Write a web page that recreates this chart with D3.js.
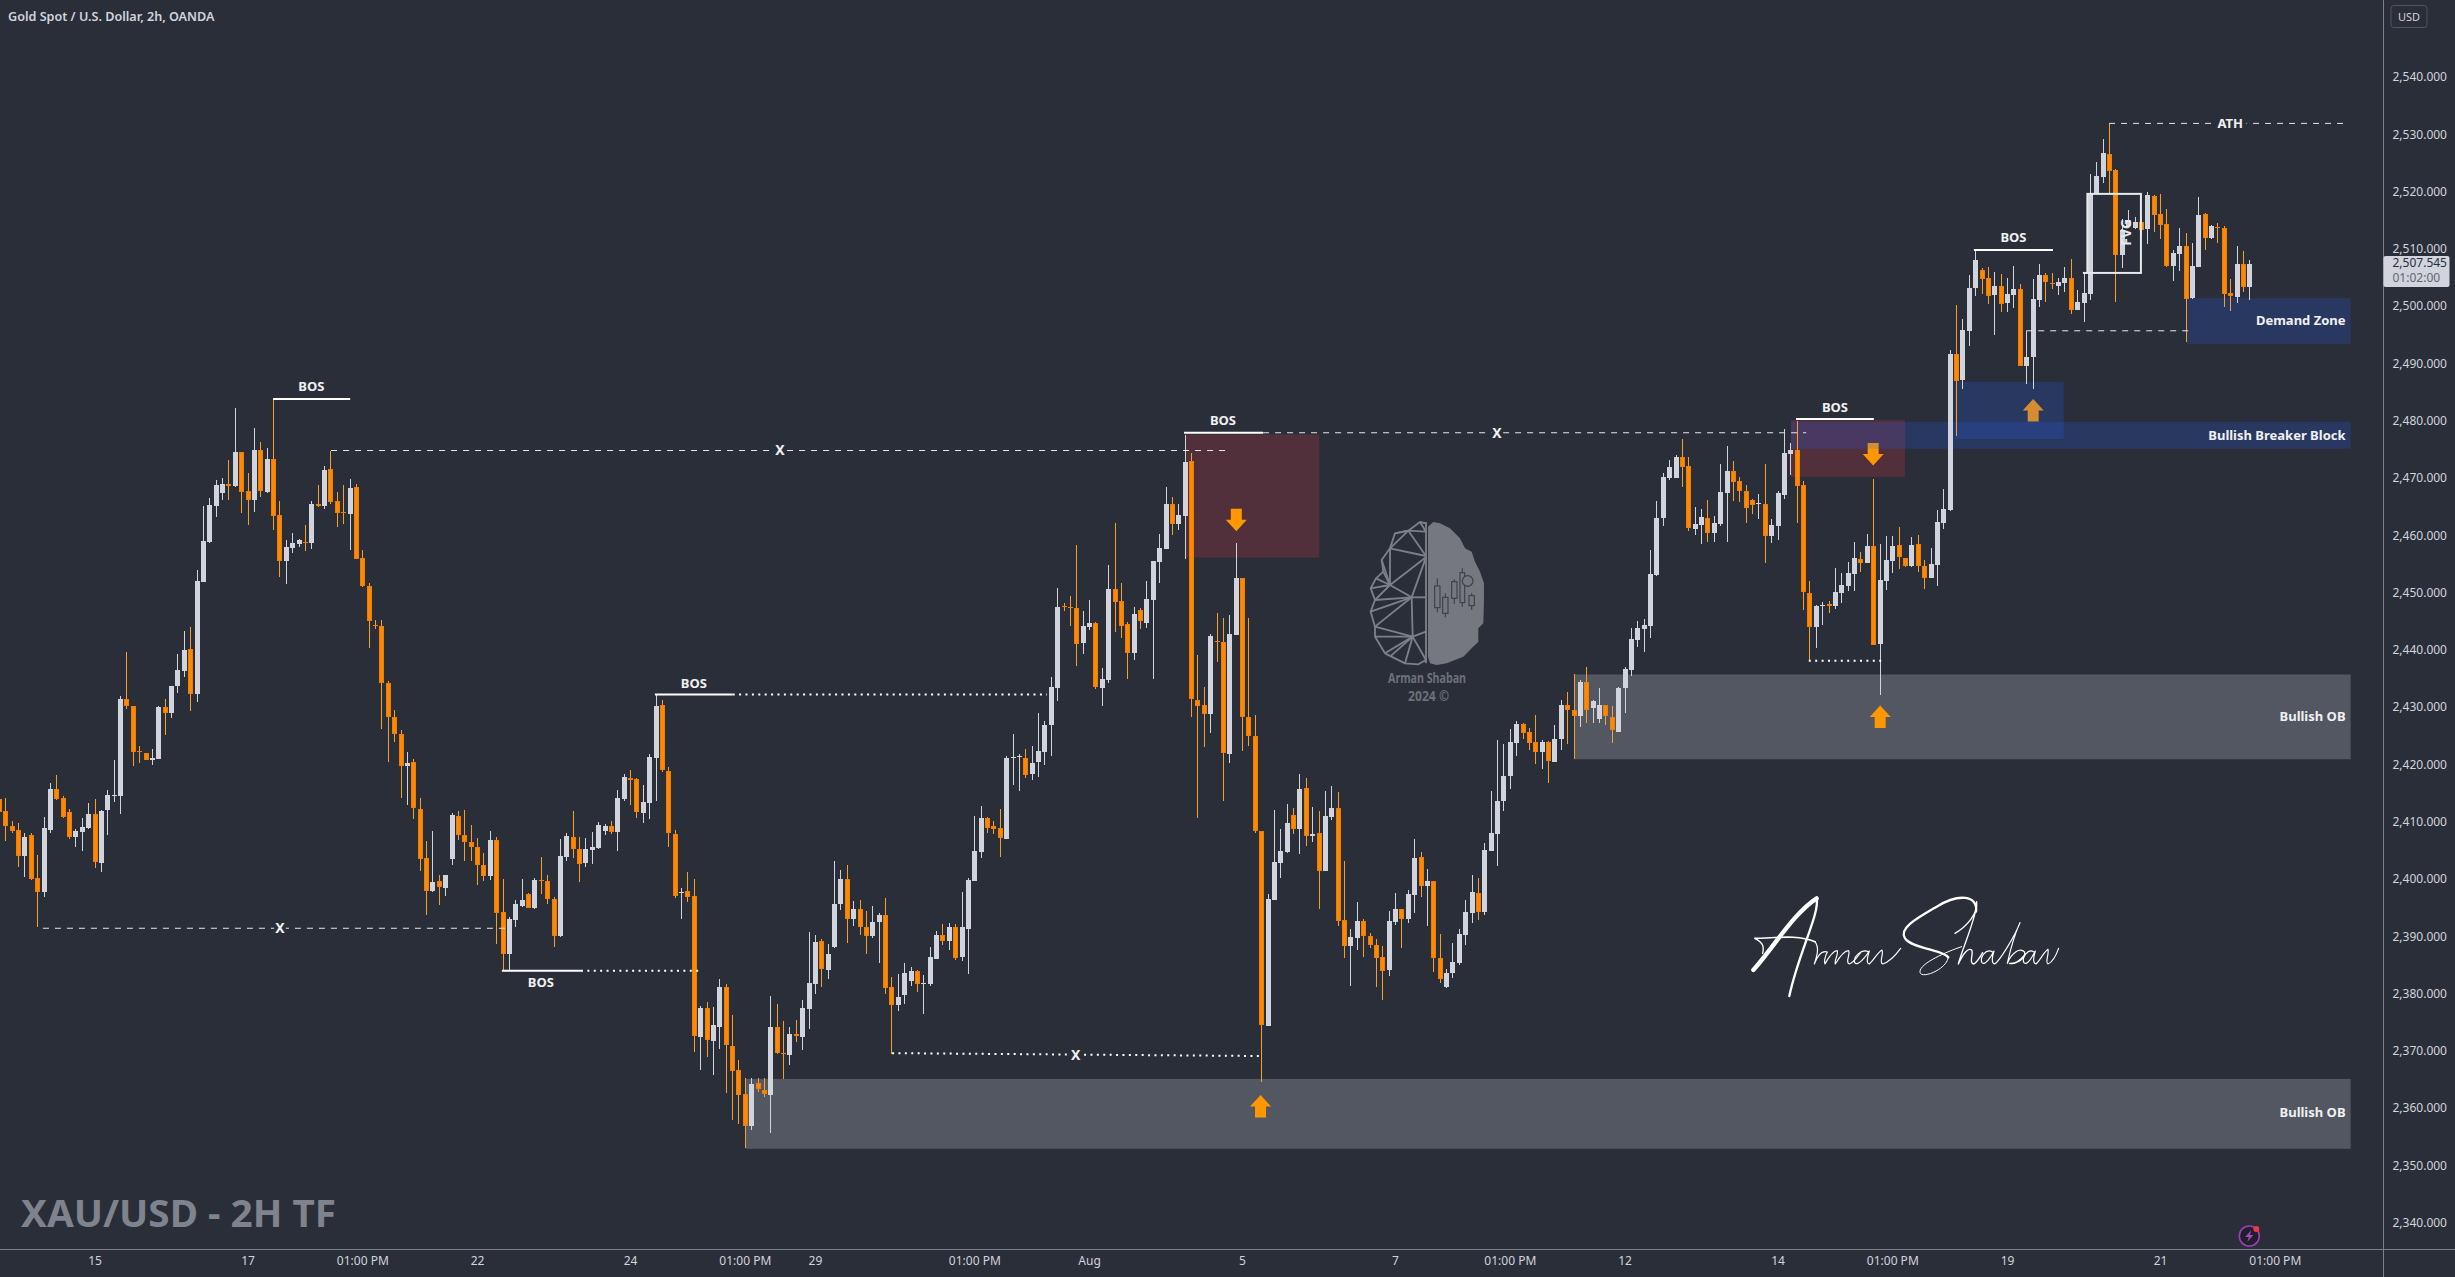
<!DOCTYPE html>
<html><head><meta charset="utf-8"><title>XAU/USD 2H</title>
<script src="https://cdn.jsdelivr.net/npm/d3@7/dist/d3.min.js"></script>
<style>
html,body{margin:0;padding:0;background:#2a2e39;overflow:hidden}
svg{display:block}
text{font-family:"Noto Sans",Roboto,sans-serif}
</style></head><body><svg id="c" width="2455" height="1277"></svg>
<script>
const opens=[2414.0,2411.9,2409.2,2408.5,2403.9,2407.7,2400.2,2397.8,2408.6,2415.7,
2414.1,2411.7,2407.4,2408.2,2408.9,2411.3,2402.9,2411.9,2414.5,2414.5,
2431.4,2430.2,2422.3,2422.0,2420.8,2421.0,2430.0,2429.0,2433.7,2436.3,
2440.2,2432.3,2451.9,2458.8,2465.1,2467.5,2468.9,2468.5,2474.5,2467.7,
2466.2,2474.9,2467.5,2473.3,2463.5,2455.4,2457.8,2458.5,2458.9,2458.7,
2465.4,2465.1,2471.5,2466.0,2464.0,2463.7,2468.4,2456.0,2451.2,2444.4,
2444.1,2434.2,2428.2,2425.3,2419.8,2420.4,2412.3,2403.6,2397.8,2399.6,
2398.5,2403.5,2411.0,2407.6,2406.4,2405.5,2402.4,2400.5,2406.8,2394.2,
2386.9,2392.8,2395.3,2397.4,2394.9,2399.8,2399.6,2396.5,2390.0,2403.8,
2407.4,2405.3,2402.7,2405.1,2405.4,2408.4,2409.2,2408.1,2413.9,2417.7,
2417.4,2411.5,2413.3,2421.2,2430.3,2418.8,2407.9,2397.6,2397.9,2397.0,
2372.5,2377.4,2371.7,2374.2,2381.1,2370.9,2366.6,2362.4,2356.8,2364.3,
2363.1,2362.4,2374.1,2369.6,2369.3,2372.9,2372.4,2377.3,2381.7,2389.1,
2384.1,2388.1,2395.6,2400.0,2392.9,2394.7,2391.6,2390.0,2392.4,2393.7,
2381.1,2378.0,2379.7,2382.2,2383.9,2381.8,2381.6,2386.0,2390.3,2389.2,
2391.6,2386.4,2391.2,2399.6,2404.7,2410.6,2409.3,2408.9,2407.1,2421.2,
2421.4,2421.2,2418.3,2420.3,2422.1,2426.9,2433.3,2447.6,2447.4,2447.3,
2441.2,2444.0,2444.7,2433.5,2434.8,2450.6,2448.5,2444.5,2439.5,2447.0,
2444.7,2448.7,2455.4,2457.6,2465.4,2461.9,2463.4,2472.9,2431.3,2430.3,
2428.8,2441.6,2441.3,2421.8,2442.6,2452.5,2428.3,2424.9,2408.3,2374.4,
2396.3,2402.8,2404.7,2411.1,2408.8,2415.8,2407.4,2408.0,2401.4,2410.8,
2412.4,2392.8,2388.2,2389.7,2392.6,2390.0,2388.4,2386.4,2384.0,2392.5,
2394.7,2393.0,2397.3,2403.8,2398.8,2399.6,2386.2,2381.1,2383.5,2385.3,
2390.2,2394.1,2397.6,2394.2,2404.9,2407.8,2413.6,2418.0,2423.7,2427.0,
2425.6,2423.9,2422.1,2423.9,2420.4,2424.3,2430.3,2429.5,2428.5,2434.4,
2429.7,2427.8,2430.3,2428.2,2425.8,2433.2,2436.5,2441.7,2443.6,2444.2,
2453.1,2462.9,2470.0,2470.0,2473.7,2472.1,2461.1,2461.8,2463.0,2460.4,
2462.0,2467.4,2471.3,2469.4,2467.7,2466.1,2465.5,2465.4,2459.8,2461.6,
2467.0,2474.2,2474.9,2468.7,2450.0,2444.0,2447.7,2448.0,2447.6,2449.9,
2451.1,2453.2,2455.8,2455.1,2458.1,2441.0,2452.0,2455.5,2458.3,2456.0,
2454.6,2458.5,2454.6,2452.5,2454.8,2462.1,2464.4,2491.7,2487.0,2495.7,
2503.2,2506.3,2504.9,2502.0,2503.5,2500.6,2502.0,2503.0,2489.6,2491.0,
2501.1,2505.4,2504.1,2503.6,2504.1,2504.9,2499.3,2500.6,2502.1,2519.7,
2522.5,2526.6,2523.8,2508.9,2514.0,2513.6,2514.7,2513.5,2519.2,2516.1,
2514.4,2507.0,2509.1,2510.5,2501.4,2506.8,2516.1,2511.9,2513.8,2513.6,
2502.3,2501.6,2507.4,2503.4];
const closes=[2411.8,2409.3,2408.4,2403.9,2407.3,2400.0,2397.8,2408.9,2415.7,2414.0,
2410.7,2407.3,2408.4,2409.0,2411.3,2402.9,2411.9,2414.6,2414.6,2431.4,
2430.1,2422.2,2422.2,2420.8,2421.1,2430.0,2429.0,2433.7,2436.5,2440.0,
2432.3,2452.0,2459.0,2465.3,2468.8,2469.0,2468.5,2474.5,2467.6,2466.2,
2474.9,2467.7,2473.3,2463.4,2455.4,2457.9,2458.7,2459.2,2458.7,2465.5,
2465.0,2471.4,2465.8,2463.9,2463.8,2468.3,2455.9,2451.1,2445.1,2444.3,
2434.1,2428.2,2425.2,2419.8,2420.3,2412.3,2403.5,2397.8,2399.4,2398.5,
2400.7,2411.2,2407.7,2406.3,2405.5,2402.3,2400.5,2406.8,2394.1,2386.9,
2393.0,2395.6,2396.3,2395.0,2399.8,2399.6,2396.4,2390.1,2404.0,2407.5,
2405.3,2402.7,2405.2,2405.6,2409.4,2409.2,2408.1,2414.1,2417.8,2417.3,
2411.6,2413.5,2421.3,2430.2,2418.9,2407.9,2397.0,2397.7,2396.9,2372.5,
2377.5,2371.9,2374.5,2381.1,2370.9,2366.5,2362.3,2356.9,2364.2,2363.3,
2362.4,2374.2,2369.5,2369.5,2372.9,2372.5,2377.5,2381.9,2389.0,2384.2,
2386.9,2395.6,2400.0,2393.1,2394.7,2391.6,2390.1,2392.5,2393.7,2381.0,
2377.9,2379.4,2383.6,2383.9,2381.6,2381.8,2386.3,2390.2,2389.3,2391.6,
2386.2,2391.6,2399.8,2404.9,2410.6,2408.9,2408.7,2407.1,2421.2,2421.3,
2421.4,2418.3,2420.3,2422.3,2426.9,2433.5,2447.5,2447.5,2447.3,2441.0,
2444.2,2444.7,2433.5,2435.0,2450.6,2448.3,2444.2,2439.5,2446.3,2445.1,
2448.9,2455.5,2457.8,2465.4,2461.9,2463.5,2472.8,2431.3,2430.3,2428.8,
2442.5,2441.4,2422.0,2442.7,2452.5,2428.3,2424.9,2408.3,2374.4,2396.5,
2403.0,2404.9,2409.8,2408.6,2415.7,2407.4,2407.8,2401.4,2411.0,2412.4,
2392.6,2388.2,2389.8,2392.6,2389.9,2388.4,2386.2,2384.0,2392.6,2394.7,
2393.0,2397.4,2403.7,2398.8,2399.7,2386.1,2382.6,2383.6,2385.5,2390.4,
2394.2,2397.7,2394.3,2405.1,2408.0,2413.6,2418.0,2423.9,2427.0,2425.4,
2423.7,2422.2,2423.9,2420.5,2424.4,2430.3,2429.5,2428.5,2434.4,2429.5,
2431.0,2430.3,2428.4,2426.0,2433.4,2436.6,2441.9,2443.8,2444.3,2453.2,
2463.0,2470.1,2471.9,2473.7,2472.0,2461.3,2462.0,2463.2,2460.4,2462.1,
2467.5,2471.2,2469.4,2467.6,2464.8,2465.3,2465.6,2459.8,2461.8,2467.4,
2474.4,2474.9,2468.6,2450.0,2444.0,2447.6,2447.8,2447.7,2450.1,2451.3,
2453.4,2456.0,2455.1,2458.1,2440.8,2452.2,2455.7,2458.1,2456.2,2454.6,
2458.3,2454.6,2452.5,2455.0,2462.3,2464.6,2491.7,2487.0,2495.8,2503.2,
2508.1,2504.8,2501.8,2503.5,2500.4,2502.1,2503.0,2489.6,2491.1,2501.2,
2505.4,2504.1,2504.0,2504.3,2504.9,2499.3,2500.7,2502.3,2519.7,2522.7,
2526.7,2523.6,2508.9,2513.3,2514.9,2514.7,2513.3,2519.4,2515.9,2514.2,
2507.0,2509.3,2510.5,2501.2,2507.0,2515.9,2511.9,2514.0,2513.6,2502.1,
2501.7,2507.4,2503.4,2507.4];
const highs=[2414.5,2414.1,2410.1,2409.8,2408.1,2408.1,2404.2,2410.8,2416.8,2418.1,
2414.5,2412.2,2408.7,2410.7,2413.2,2413.9,2412.0,2415.6,2420.8,2431.9,
2439.6,2430.2,2423.3,2422.0,2422.7,2430.2,2431.4,2433.7,2439.3,2443.3,
2444.0,2453.9,2465.2,2466.5,2469.7,2470.0,2473.1,2482.2,2474.5,2470.9,
2478.8,2476.3,2475.3,2483.8,2466.0,2459.2,2460.4,2459.4,2461.8,2466.0,
2468.8,2472.1,2474.8,2467.5,2468.8,2469.8,2468.9,2457.4,2451.7,2445.2,
2445.2,2434.5,2429.5,2426.0,2422.1,2420.9,2414.2,2406.6,2408.4,2400.7,
2400.7,2411.5,2411.9,2412.0,2409.4,2407.2,2404.5,2408.4,2407.4,2400.0,
2393.3,2396.3,2400.0,2397.6,2400.1,2403.9,2400.7,2396.9,2407.0,2408.1,
2411.9,2407.4,2407.1,2408.2,2409.9,2409.6,2410.1,2415.6,2418.3,2419.0,
2417.7,2416.4,2421.8,2432.1,2431.2,2419.6,2408.5,2398.5,2401.2,2400.0,
2377.8,2378.5,2377.6,2382.5,2381.6,2376.2,2368.4,2365.2,2365.2,2365.2,
2365.2,2379.5,2378.2,2375.2,2374.2,2375.3,2378.9,2390.7,2390.2,2389.5,
2388.7,2403.1,2401.5,2402.4,2396.1,2396.4,2394.4,2395.3,2394.1,2396.7,
2382.9,2383.4,2385.3,2384.7,2384.2,2383.2,2388.1,2390.9,2392.1,2392.3,
2392.1,2397.8,2400.2,2411.0,2412.7,2410.9,2410.1,2412.2,2421.4,2425.3,
2421.8,2422.7,2423.2,2428.9,2427.5,2435.2,2450.8,2448.2,2449.4,2458.3,
2446.8,2448.7,2444.9,2436.8,2454.8,2462.1,2451.7,2444.8,2447.4,2447.3,
2452.1,2455.5,2460.2,2468.5,2466.6,2465.4,2477.5,2474.4,2439.1,2433.5,
2442.8,2446.4,2445.5,2446.1,2458.7,2452.5,2445.5,2428.6,2408.3,2397.3,
2412.0,2408.7,2413.1,2412.4,2418.3,2417.6,2412.5,2411.8,2415.4,2416.2,
2415.2,2403.1,2391.3,2396.0,2393.0,2390.5,2389.5,2388.3,2394.5,2397.6,
2394.7,2398.0,2406.9,2404.7,2401.7,2399.7,2390.4,2384.3,2388.8,2391.3,
2396.3,2400.7,2400.2,2406.2,2415.4,2424.2,2423.6,2426.1,2427.5,2427.2,
2426.3,2428.7,2424.3,2424.1,2426.8,2431.3,2432.6,2435.8,2434.7,2437.0,
2431.2,2433.3,2430.4,2430.2,2433.5,2437.0,2443.8,2445.0,2445.3,2457.4,
2465.9,2470.8,2473.1,2474.0,2476.8,2473.7,2464.9,2464.6,2466.1,2463.4,
2472.4,2475.6,2472.9,2470.1,2468.8,2466.4,2467.2,2472.4,2462.8,2467.7,
2478.5,2476.1,2479.9,2469.5,2452.0,2447.9,2448.3,2448.5,2454.3,2453.4,
2455.3,2458.8,2457.1,2460.2,2469.9,2458.5,2459.9,2459.9,2461.4,2456.0,
2459.7,2460.0,2455.7,2457.8,2464.4,2468.1,2492.4,2500.2,2497.8,2505.4,
2509.8,2506.6,2506.8,2505.9,2505.7,2505.0,2507.0,2503.8,2495.6,2504.7,
2507.4,2505.8,2505.8,2504.9,2506.8,2508.2,2502.8,2505.8,2523.1,2525.2,
2529.2,2531.8,2524.0,2515.3,2516.8,2515.6,2515.9,2519.9,2519.4,2519.6,
2517.0,2509.8,2513.6,2512.7,2511.0,2519.1,2516.3,2514.2,2514.5,2514.0,
2504.7,2510.5,2509.6,2508.1];
const lows=[2411.4,2406.7,2408.0,2402.1,2400.3,2399.9,2391.6,2396.8,2408.1,2413.8,
2410.6,2406.9,2405.6,2404.9,2408.7,2402.0,2401.3,2407.7,2413.5,2411.3,
2429.6,2419.8,2420.3,2420.8,2419.9,2421.0,2425.2,2428.1,2432.5,2435.2,
2429.4,2430.9,2451.8,2458.7,2463.2,2466.1,2466.2,2468.5,2463.9,2461.8,
2464.0,2466.6,2467.3,2461.0,2452.8,2451.5,2456.9,2457.9,2457.2,2457.6,
2465.0,2464.6,2465.5,2461.5,2462.0,2457.4,2455.8,2450.9,2440.3,2443.6,
2426.2,2420.4,2423.9,2414.2,2412.9,2410.5,2401.4,2393.7,2397.8,2395.5,
2397.0,2402.4,2406.8,2403.1,2403.1,2399.0,2399.6,2399.9,2388.6,2383.9,
2383.9,2391.7,2395.1,2394.9,2394.7,2397.3,2395.6,2388.2,2389.9,2403.2,
2403.6,2399.5,2402.1,2402.6,2405.2,2407.7,2407.8,2404.9,2413.7,2413.0,
2410.7,2409.8,2410.5,2413.7,2418.6,2405.6,2396.7,2393.0,2396.0,2369.8,
2366.6,2369.0,2365.8,2370.3,2362.7,2357.9,2357.3,2353.1,2356.1,2362.9,
2362.0,2355.7,2369.4,2365.1,2367.5,2371.5,2370.1,2373.8,2380.0,2381.2,
2382.6,2387.9,2394.6,2388.8,2391.8,2390.2,2386.9,2389.7,2385.3,2379.9,
2369.4,2376.9,2378.2,2381.4,2380.2,2376.5,2381.3,2386.0,2388.4,2387.6,
2385.9,2385.7,2383.5,2399.6,2403.7,2408.1,2407.9,2403.8,2407.1,2416.4,
2415.4,2417.6,2417.3,2417.8,2419.9,2421.4,2431.1,2446.8,2444.1,2437.2,
2439.2,2443.5,2433.2,2430.2,2434.2,2443.2,2442.0,2434.9,2438.3,2443.6,
2443.8,2435.0,2451.7,2457.6,2460.1,2461.0,2455.9,2428.3,2410.7,2423.0,
2425.5,2437.9,2413.6,2420.2,2442.6,2422.3,2423.3,2408.0,2364.5,2374.4,
2396.3,2400.2,2404.5,2407.9,2404.4,2405.8,2406.5,2394.8,2401.4,2410.3,
2391.8,2386.2,2381.4,2387.6,2386.4,2388.0,2381.1,2378.8,2383.1,2391.9,
2388.0,2392.3,2394.0,2396.9,2391.8,2383.8,2381.8,2381.0,2382.8,2385.0,
2388.4,2392.3,2392.9,2393.8,2404.9,2402.3,2411.9,2415.7,2421.4,2424.5,
2422.5,2420.0,2419.2,2416.8,2420.4,2422.5,2423.6,2421.0,2426.6,2427.2,
2427.2,2427.2,2426.8,2423.7,2425.6,2429.0,2435.4,2440.5,2439.7,2442.1,
2452.9,2461.6,2469.6,2470.0,2468.4,2460.8,2460.0,2458.5,2458.8,2458.8,
2461.6,2458.8,2466.0,2465.8,2462.1,2463.7,2462.8,2455.1,2458.6,2459.2,
2466.4,2470.5,2462.1,2446.9,2438.0,2440.4,2444.3,2446.4,2447.2,2448.2,
2450.3,2450.3,2453.6,2455.1,2440.8,2432.1,2450.4,2453.5,2454.1,2454.5,
2454.5,2453.6,2450.6,2452.5,2451.1,2461.1,2464.2,2477.3,2485.6,2493.0,
2501.7,2502.2,2500.3,2495.0,2498.9,2499.0,2499.6,2489.6,2486.4,2485.6,
2499.9,2500.7,2503.0,2502.0,2502.5,2498.6,2499.3,2497.2,2501.1,2519.7,
2521.5,2519.7,2500.7,2506.7,2513.8,2513.4,2512.4,2510.9,2513.0,2511.7,
2506.8,2504.4,2506.1,2493.8,2501.2,2506.8,2509.8,2511.7,2511.0,2499.9,
2499.2,2500.6,2502.5,2501.1];

const timeTickBars=[15,39,57,75,99,117,128,153,171,195,219,237,255,279,297,315,339,357];
const timeTickLabels=["15","17","01:00 PM","22","24","01:00 PM","29","01:00 PM","Aug","5","7","01:00 PM","12","14","01:00 PM","19","21","01:00 PM"];
const priceTicks=d3.range(2340,2541,10);
const lastPrice=2507.545;

// zones: [barFrom, barTo, priceTop, priceBottom]
const grayZones=[[117.1,368.9,2365.1,2352.9],[247.1,368.9,2435.7,2420.9]];
const redZones=[[186.2,207.1,2477.6,2456.1],[281.1,299,2480.1,2470.2]];
const blueZones=[[281.1,368.9,2479.8,2475.1],[306.8,323.9,2486.8,2476.8],[343.2,368.9,2501.4,2493.4]];
// arrows: [bar, price, direction]
const arrows=[[194.1,2462.7,"down"],[197.9,2360.3,"up"],[295.1,2428.3,"up"],[294,2474.2,"down"],[319.1,2481.8,"up"]];
// lines: [barFrom, barTo, priceFrom, priceTo, style]
const levels=[
 [43,55.1,2483.8,2483.8,"solid"],[52.1,192.6,2474.8,2474.8,"dash"],[6.9,79.7,2391.4,2391.4,"dash"],
 [102.9,115.1,2432.2,2432.2,"solid"],[115.1,164.4,2432.2,2432.2,"dot"],
 [78.9,91.3,2384.0,2384.0,"solid"],[91.3,110,2384.0,2384.0,"dot"],
 [185.9,198.3,2477.9,2477.9,"solid"],[198.3,283.5,2477.9,2477.9,"dash"],
 [140.1,197.8,2369.6,2369.1,"dot"],
 [281.9,294.1,2480.3,2480.3,"solid"],[283.9,295.5,2438.1,2438.1,"dot"],
 [309.8,322.2,2509.8,2509.8,"solid"],[318,344,2495.7,2495.7,"dash"],
 [331,368.2,2531.9,2531.9,"dash"]
];
const bosLabels=[[49,2486.0],[109,2434.2],[85,2382.0],[192,2480.0],[288,2482.3],[316,2512.0]];
const xLabels=[[122.5,2474.9],[44.1,2391.4],[235,2477.9],[168.9,2369.3]];
const zoneLabels=[["Bullish OB",2428.4],["Bullish OB",2359.3],["Demand Zone",2497.5],["Bullish Breaker Block",2477.5]];

const W=2455,H=1277,axisX=2383.5,axisY=1249.5;
const BG="#2a2e39",UP="#d1d4dc",DOWN="#f57c00",TXT="#d1d4dc";
const x=d3.scaleLinear().domain([0,353]).range([-1.07,2249.3]);
const y=d3.scaleLinear().domain([2340,2530]).range([1222.7,134.3]);
const svg=d3.select("#c");
svg.append("rect").attr("width",W).attr("height",H).attr("fill",BG);

const zoneRect=(g,data,fill)=>g.selectAll(null).data(data).join("rect")
 .attr("x",d=>x(d[0])).attr("width",d=>x(d[1])-x(d[0]))
 .attr("y",d=>y(d[2])).attr("height",d=>y(d[3])-y(d[2])).attr("fill",fill);
const plot=svg.append("g");
zoneRect(plot.append("g"),grayZones,"rgba(209,212,220,0.25)");
zoneRect(plot.append("g"),redZones,"rgba(242,54,69,0.2)");
plot.append("g").selectAll("path").data(arrows).join("path")
 .attr("transform",d=>`translate(${x(d[0])},${y(d[1])}) scale(1,${d[2]==="down"?1:-1})`)
 .attr("d","M-5.5,-11H5.5V0H10.5L0,11.5L-10.5,0H-5.5Z").attr("fill","#ff9800");
zoneRect(plot.append("g"),blueZones,"rgba(41,98,255,0.2)");

// candles
const bars=d3.range(opens.length).map(i=>({i,o:opens[i],h:highs[i],l:lows[i],c:closes[i]}));
const cg=plot.append("g").attr("shape-rendering","crispEdges");
const cx=d=>Math.round(x(d.i));
cg.selectAll("rect.w").data(bars).join("rect").attr("class","w")
 .attr("x",cx).attr("width",1).attr("y",d=>y(d.h)).attr("height",d=>Math.max(1,y(d.l)-y(d.h)))
 .attr("fill",d=>d.c>=d.o?UP:"#f5a02e");
cg.selectAll("rect.b").data(bars).join("rect").attr("class","b")
 .attr("x",d=>cx(d)-2).attr("width",5)
 .attr("y",d=>Math.round(y(Math.max(d.o,d.c))))
 .attr("height",d=>Math.max(1,Math.round(y(Math.min(d.o,d.c))-y(Math.max(d.o,d.c)))))
 .attr("fill",d=>d.c>=d.o?UP:DOWN);
cg.selectAll("rect.b2").data(bars.filter(d=>d.c<d.o)).join("rect").attr("class","b2")
 .attr("x",d=>cx(d)-1).attr("width",3)
 .attr("y",d=>Math.round(y(d.o))+1)
 .attr("height",d=>Math.max(0,Math.round(y(d.c)-y(d.o))-2)).attr("fill","#f88a06");

// level lines
const lineStyle={solid:{w:2,dash:null,c:"#ffffff"},dash:{w:1,dash:"6,6",c:"#e6e7ea"},dot:{w:2,dash:"2,4.4",c:"#ffffff"}};
plot.append("g").selectAll("line").data(levels).join("line")
 .attr("x1",d=>x(d[0])).attr("x2",d=>x(d[1])).attr("y1",d=>y(d[2])).attr("y2",d=>y(d[3]))
 .attr("stroke",d=>lineStyle[d[4]].c).attr("stroke-width",d=>lineStyle[d[4]].w)
 .attr("stroke-dasharray",d=>lineStyle[d[4]].dash);

// FVG box
const fvg=[327.6,336,2519.6,2505.8];
plot.append("rect").attr("x",x(fvg[0])).attr("y",y(fvg[2])).attr("width",x(fvg[1])-x(fvg[0])).attr("height",y(fvg[3])-y(fvg[2]))
 .attr("fill","none").attr("stroke","#e8e9ed").attr("stroke-width",2);
plot.append("line").attr("x1",x(326.9)).attr("x2",x(fvg[0])).attr("y1",y(fvg[3])).attr("y2",y(fvg[3])).attr("stroke","#e8e9ed").attr("stroke-width",2);
plot.append("text").text("FVG").attr("transform",`translate(${x(333.7)},${y(2512.9)}) rotate(-90)`)
 .attr("text-anchor","middle").attr("dy","0.35em").attr("font-size",14).attr("font-weight",700).attr("fill","#e8e9ed");

// labels
const lab=svg.append("g").attr("font-weight",700).attr("fill","#f0f1f3").attr("font-size",13);
lab.selectAll("text.bos").data(bosLabels).join("text").attr("class","bos").text("BOS")
 .attr("x",d=>x(d[0])).attr("y",d=>y(d[1])).attr("text-anchor","middle").attr("dy","0.35em");
lab.selectAll("text.x").data(xLabels).join("text").attr("class","x").text("X")
 .attr("x",d=>x(d[0])).attr("y",d=>y(d[1])).attr("text-anchor","middle").attr("dy","0.36em")
 .attr("font-size",14).attr("stroke",BG).attr("stroke-width",7).attr("paint-order","stroke");
lab.append("text").text("ATH").attr("x",x(350)).attr("y",y(2531.9)).attr("text-anchor","middle").attr("dy","0.35em")
 .attr("stroke",BG).attr("stroke-width",9).attr("paint-order","stroke");
lab.selectAll("text.z").data(zoneLabels).join("text").attr("class","z").text(d=>d[0])
 .attr("x",x(368.1)).attr("y",d=>y(d[1])).attr("text-anchor","end").attr("dy","0.35em");

// axes
const gy=svg.append("g").attr("transform",`translate(${axisX},0)`).call(
 d3.axisRight(y).tickValues(priceTicks).tickSize(0).tickPadding(9).tickFormat(d3.format(",.3f")));
const gx=svg.append("g").attr("transform",`translate(0,${axisY})`).call(
 d3.axisBottom(x).tickValues(timeTickBars).tickSize(0).tickPadding(7)
 .tickFormat((d,i)=>timeTickLabels[i]));
[gy,gx].forEach(g=>{g.select(".domain").remove();
 g.selectAll("text").attr("fill",TXT).attr("font-size",12).attr("font-family","Roboto,'Noto Sans',sans-serif");});
svg.append("line").attr("x1",axisX).attr("x2",axisX).attr("y1",0).attr("y2",H).attr("stroke","#7d808a").attr("shape-rendering","crispEdges");
svg.append("line").attr("x1",0).attr("x2",W).attr("y1",axisY).attr("y2",axisY).attr("stroke","#7d808a").attr("shape-rendering","crispEdges");

// last price tag
const tag=svg.append("g").attr("transform",`translate(${axisX},${y(lastPrice)})`);
tag.append("rect").attr("x",0).attr("y",-7).attr("width",66).attr("height",31).attr("rx",2).attr("fill",UP);
tag.append("text").text(d3.format(",.3f")(lastPrice)).attr("x",9).attr("y",4.5).attr("fill","#2a2e39").attr("font-size",12).attr("font-family","Roboto,sans-serif");
tag.append("text").text("01:02:00").attr("x",9).attr("y",19).attr("fill","#63666f").attr("font-size",12).attr("font-family","Roboto,sans-serif");

// header, USD and watermark titles
svg.append("text").text("Gold Spot / U.S. Dollar, 2h, OANDA").attr("x",8).attr("y",20.5).attr("fill",TXT).attr("font-size",12.6).attr("font-weight",600);
const usd=svg.append("g");
usd.append("rect").attr("x",2391).attr("y",5.5).attr("width",36).attr("height",22).attr("rx",3).attr("fill","none").attr("stroke","#50535e");
usd.append("text").text("USD").attr("x",2409).attr("y",21).attr("text-anchor","middle").attr("fill",TXT).attr("font-size",11).attr("font-family","Roboto,sans-serif");
svg.append("text").text("XAU/USD - 2H TF").attr("x",21).attr("y",1226.5).attr("fill","#7f838e").attr("font-size",38).attr("font-weight",700)
 .attr("textLength",315).attr("lengthAdjust","spacingAndGlyphs");

// bolt icon
const ic=svg.append("g").attr("transform","translate(2249.3,1236)");
ic.append("circle").attr("r",10).attr("fill","#1f1f2e").attr("stroke","#9c3fb5").attr("stroke-width",1.6);
ic.append("path").attr("d","M2,-6L-4,1H-.5L-2,6L4,-1H.5Z").attr("fill","#a24bc0");
ic.append("circle").attr("cx",7).attr("cy",-7).attr("r",3).attr("fill","#f23645");

// brain logo
const lg=svg.append("g").attr("transform","translate(1340,500) scale(0.3333)");
lg.append("path").attr("d","M264,80L280,66L300,70L330,85L360,115L375,145L395,155L405,185L420,215L432,250L432,300L430,370L415,385L415,425L395,445L370,470L320,490L290,495L270,490L264,470Z").attr("fill","#75787f");
const wire=lg.append("g").attr("fill","none").attr("stroke","#7d8089").attr("stroke-width",5.5).attr("stroke-linejoin","round");
wire.append("path").attr("d","M258,70L240,66L205,92L165,100L150,145L125,180L130,215L108,235L92,265L105,300L92,335L105,380L105,410L135,460L195,490L235,493L258,480");
wire.append("line").attr("x1",258).attr("x2",258).attr("y1",66).attr("y2",490);
[[240,66,258,95],[205,92,258,95],[205,92,258,168],[165,100,205,92],[150,145,258,168],[150,145,150,255],[150,145,205,92],
 [258,172,150,255],[125,180,150,255],[130,215,150,255],[108,235,150,255],[92,265,150,255],[150,255,215,292],[215,292,258,292],[258,172,215,292],
 [215,292,105,300],[215,292,92,335],[150,255,105,300],[215,292,218,410],[105,380,218,410],[215,292,105,380],[218,410,258,395],[218,410,135,460],
 [218,410,258,480],[218,410,195,490],[105,410,218,410],[218,410,150,470]].forEach(s=>wire.append("line").attr("x1",s[0]).attr("y1",s[1]).attr("x2",s[2]).attr("y2",s[3]));
const lc=lg.append("g").attr("fill","none").attr("stroke","#3e414c").attr("stroke-width",3.5);
[[284,258,16,65,292,235,337],[308,292,16,48,316,280,352],[335,245,16,50,343,238,312],[360,218,14,90,367,205,320],[387,287,16,30,395,280,330]].forEach(c=>{
 lc.append("rect").attr("x",c[0]).attr("y",c[1]).attr("width",c[2]).attr("height",c[3]);
 lc.append("line").attr("x1",c[4]).attr("x2",c[4]).attr("y1",c[5]).attr("y2",c[1]);
 lc.append("line").attr("x1",c[4]).attr("x2",c[4]).attr("y1",c[1]+c[3]).attr("y2",c[6]);});
lg.append("circle").attr("cx",383).attr("cy",243).attr("r",16).attr("fill","#75787f").attr("stroke","#3e414c").attr("stroke-width",3.5);
const logoFont="'Liberation Sans',sans-serif";
svg.append("text").text("Arman Shaban").attr("x",1388).attr("y",682.5).attr("fill","#6d7079").attr("font-size",15).attr("font-family",logoFont).attr("font-weight",700)
 .attr("textLength",78).attr("lengthAdjust","spacingAndGlyphs");
svg.append("text").text("2024 ©").attr("x",1408).attr("y",701).attr("fill","#6d7079").attr("font-size",15).attr("font-family",logoFont).attr("font-weight",700)
 .attr("textLength",41).attr("lengthAdjust","spacingAndGlyphs");

// signature drawing
const sig=svg.append("g").attr("transform","translate(1720,870) scale(0.3333)").attr("fill","none").attr("stroke","#ffffff").attr("stroke-linecap","round").attr("stroke-linejoin","round");
sig.append("path").attr("d","M100,300C155,240 220,130 290,85").attr("stroke-width",13);
sig.append("path").attr("d","M290,85C300,130 235,250 208,378").attr("stroke-width",7);
sig.append("path").attr("d","M105,205C160,205 230,192 285,215").attr("stroke-width",5);
sig.append("path").attr("d","M105,205C120,215 135,220 128,250").attr("stroke-width",4);
sig.append("path").attr("stroke-width",3.5).attr("d","M285,215C298,232 292,255 283,282C292,258 305,240 322,246C316,258 312,272 315,282C326,262 340,242 352,242C356,252 342,272 346,282C358,262 372,242 386,242C392,254 374,276 388,282C402,278 410,262 422,248");
sig.append("path").attr("stroke-width",3.5).attr("d","M446,246C425,234 398,262 404,278C414,290 436,262 448,243C442,262 438,280 448,282C462,270 472,248 486,240C492,252 476,278 488,282C508,276 528,254 542,235");
sig.append("path").attr("stroke-width",7).attr("d","M768,125C775,75 715,70 650,110C590,145 535,175 555,205C575,235 670,240 685,262");
sig.append("path").attr("stroke-width",3).attr("d","M685,262C680,300 600,330 600,305C600,280 680,245 725,230");
sig.append("path").attr("stroke-width",4).attr("d","M705,190C740,170 775,130 770,95C775,130 725,240 715,282C730,250 745,232 755,240C762,250 745,280 762,282C772,276 780,262 788,248");
sig.append("path").attr("stroke-width",3.5).attr("d","M818,246C798,234 778,262 786,278C796,288 812,262 822,243C816,262 814,280 824,282C838,274 884,200 900,158C880,200 866,262 862,280C876,246 900,232 914,246C918,268 885,284 868,280C884,282 900,272 916,252");
sig.append("path").attr("stroke-width",3.5).attr("d","M942,246C925,234 904,262 912,278C922,288 936,262 946,243C940,262 938,280 948,282C960,272 970,248 984,238C988,252 974,278 984,282C998,276 1010,252 1016,235");
</script></body></html>
